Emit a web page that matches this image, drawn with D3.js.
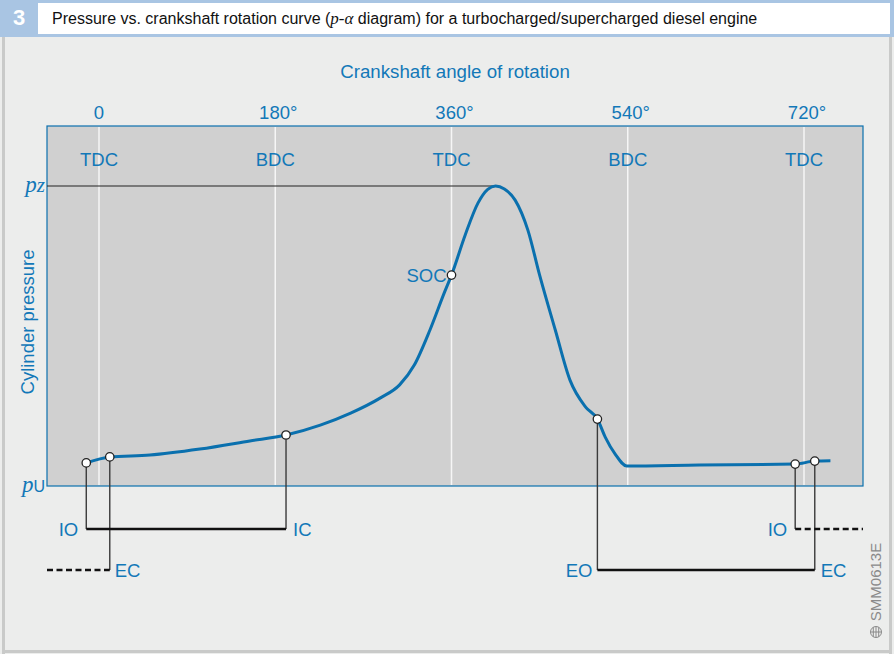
<!DOCTYPE html>
<html><head><meta charset="utf-8">
<script src="https://cdn.jsdelivr.net/npm/d3@7"></script>
<style>body{margin:0;background:#fff}svg{display:block}text{font-family:"Liberation Sans",Arial,sans-serif}</style>
</head><body><svg id="c" width="894" height="654"></svg>
<script>
// Data
const tickAngles = [0, 180, 360, 540, 720];
const tickLabels = ["0", "180°", "360°", "540°", "720°"];
const deadCenters = ["TDC", "BDC", "TDC", "BDC", "TDC"];
const curveAngles = [-13, 11, 52, 103, 154, 191, 226, 257, 287, 307, 322, 338, 353, 360, 374, 387, 397, 405, 414, 425, 438, 450, 466, 481, 497, 509, 517, 527, 539, 613, 711, 731, 747];
const curvePressure = [7.7, 9.7, 10.3, 12.3, 15.0, 17.0, 20.3, 24.3, 29.3, 33.7, 40.3, 52, 64.7, 70.3, 83.7, 94.3, 98.9, 100, 99, 95.3, 85.3, 70.3, 52, 35.3, 26.3, 22.3, 16.3, 10.7, 6.7, 7.0, 7.3, 8.3, 8.4];
const eventNames = ["IO", "EC", "IC", "SOC", "EO", "IO", "EC"];
const eventAngles = [-13, 11, 191, 360, 509, 711, 731];
const eventPressure = [7.7, 9.7, 17.0, 70.3, 22.3, 7.3, 8.3];
const peakAngle = 405, peakPressure = 100;

const svg = d3.select("#c");
const blue = "#1278b8", curveBlue = "#0a70ae";

// frame
svg.append("rect").attr("width",894).attr("height",654).attr("fill","#ecedec");
svg.append("rect").attr("x",2).attr("y",36).attr("width",3).attr("height",618).attr("fill","#c9cac9");
svg.append("rect").attr("x",889).attr("y",36).attr("width",3).attr("height",618).attr("fill","#c9cac9");
svg.append("rect").attr("x",2).attr("y",650).attr("width",890).attr("height",3).attr("fill","#c9cac9");
svg.append("rect").attr("x",0).attr("y",0).attr("width",894).attr("height",37).attr("fill","#a9c5e3");
svg.append("rect").attr("x",38).attr("y",3).attr("width",852).attr("height",31).attr("fill","#fff");
svg.append("text").attr("x",19).attr("y",25).attr("text-anchor","middle").attr("fill","#fff")
  .attr("font-size",22).attr("font-weight","bold").text("3");
const tt = svg.append("text").attr("x",52).attr("y",24).attr("font-size",16).attr("fill","#111");
tt.append("tspan").text("Pressure vs. crankshaft rotation curve (");
tt.append("tspan").attr("font-family","Liberation Serif").attr("font-style","italic").attr("font-size",17).text("p-α");
tt.append("tspan").text(" diagram) for a turbocharged/supercharged diesel engine");

// scales
const x = d3.scaleLinear().domain([0,720]).range([99,804]);
const y = d3.scaleLinear().domain([0,100]).range([486,186]);
const L = 47, R = 863, T = 126, B = 486;

svg.append("rect").attr("x",L).attr("y",T).attr("width",R-L).attr("height",B-T)
  .attr("fill","#d0d0d0").attr("stroke",curveBlue).attr("stroke-width",1.2);
svg.selectAll(".vl").data(tickAngles).join("line")
  .attr("x1",d=>x(d)).attr("x2",d=>x(d)).attr("y1",T+1).attr("y2",B-1)
  .attr("stroke","#f6f6f6").attr("stroke-width",1.5);

// axis labels
const fs = 18.5;
svg.append("text").attr("x",455).attr("y",78).attr("text-anchor","middle").attr("font-size",18.7).attr("fill",blue).text("Crankshaft angle of rotation");
svg.selectAll(".tl").data(tickAngles).join("text")
  .attr("x",(d,i)=>x(d)+(i===0?0:3)).attr("y",119).attr("text-anchor","middle").attr("font-size",fs).attr("fill",blue)
  .text((d,i)=>tickLabels[i]);
svg.selectAll(".dc").data(tickAngles).join("text")
  .attr("x",d=>x(d)).attr("y",166).attr("text-anchor","middle").attr("font-size",fs).attr("fill",blue)
  .text((d,i)=>deadCenters[i]);
svg.append("text").attr("transform","translate(34,322) rotate(-90)").attr("text-anchor","middle")
  .attr("font-size",fs).attr("fill",blue).text("Cylinder pressure");

// pz / pU
const pz = svg.append("text").attr("x",45).attr("y",y(100)+6).attr("text-anchor","end").attr("fill",blue);
pz.append("tspan").attr("font-family","Liberation Serif").attr("font-style","italic").attr("font-size",23).text("p");
pz.append("tspan").attr("font-family","Liberation Serif").attr("font-style","italic").attr("font-size",21).text("z");
const pu = svg.append("text").attr("x",45).attr("y",y(0)+6).attr("text-anchor","end").attr("fill",blue);
pu.append("tspan").attr("font-family","Liberation Serif").attr("font-style","italic").attr("font-size",23).text("p");
pu.append("tspan").attr("font-size",16).text("U");

// pz line
svg.append("line").attr("x1",L).attr("x2",x(peakAngle)).attr("y1",y(peakPressure)).attr("y2",y(peakPressure))
  .attr("stroke","#222").attr("stroke-width",1);

// curve
const pts = curveAngles.map((a,i)=>[a,curvePressure[i]]);
svg.append("path").attr("d",d3.line().x(d=>x(d[0])).y(d=>y(d[1])).curve(d3.curveMonotoneX)(pts))
  .attr("fill","none").attr("stroke",curveBlue).attr("stroke-width",3);

// connectors
const ev = eventNames.map((n,i)=>({n, a:eventAngles[i], p:eventPressure[i]}));
const yA = 529, yB = 570;
const conn = svg.append("g");
function vline(e, yy){conn.append("line").attr("x1",x(e.a)).attr("x2",x(e.a)).attr("y1",y(e.p)).attr("y2",yy).attr("stroke","#3a3a3a").attr("stroke-width",1.4);}
vline(ev[0], yA); vline(ev[1], yB); vline(ev[2], yA); vline(ev[4], yB); vline(ev[5], yA); vline(ev[6], yB);
function hline(x1,x2,yy,dash){conn.append("line").attr("x1",x1).attr("x2",x2).attr("y1",yy).attr("y2",yy)
  .attr("stroke","#111").attr("stroke-width",2.6).attr("stroke-dasharray",dash||null);}
hline(x(ev[0].a), x(ev[2].a), yA);
hline(L, x(ev[1].a), yB, "6,3.5");
hline(x(ev[4].a), x(ev[6].a), yB);
hline(x(ev[5].a), R, yA, "6,3.5");

function lab(t, xx, yy, anchor){svg.append("text").attr("x",xx).attr("y",yy+7).attr("text-anchor",anchor).attr("font-size",fs).attr("fill",blue).text(t);}
lab(ev[0].n, x(ev[0].a)-8, yA, "end");
lab(ev[2].n, x(ev[2].a)+7, yA, "start");
lab(ev[1].n, x(ev[1].a)+5, yB, "start");
lab(ev[4].n, x(ev[4].a)-5, yB, "end");
lab(ev[6].n, x(ev[6].a)+6, yB, "start");
lab(ev[5].n, x(ev[5].a)-8, yA, "end");
lab(ev[3].n, x(ev[3].a)-5, y(ev[3].p), "end");

// markers
svg.selectAll(".mk").data(ev).join("circle")
  .attr("cx",d=>x(d.a)).attr("cy",d=>y(d.p)).attr("r",4.2)
  .attr("fill","#fff").attr("stroke","#222").attr("stroke-width",1.3);

// code label
svg.append("text").attr("transform","translate(881,582) rotate(-90)").attr("text-anchor","middle")
  .attr("font-size",15).attr("fill","#8a8a8a").text("SMM0613E");
const ic = svg.append("g").attr("transform","translate(876,632)").attr("stroke","#8a8a8a").attr("fill","none").attr("stroke-width",1);
ic.append("circle").attr("r",5.5);
ic.append("line").attr("x1",-5.5).attr("x2",5.5);
ic.append("line").attr("y1",-5.5).attr("y2",5.5);
ic.append("line").attr("x1",-2.7).attr("x2",-2.7).attr("y1",-4.8).attr("y2",4.8);
ic.append("line").attr("x1",2.7).attr("x2",2.7).attr("y1",-4.8).attr("y2",4.8);
</script></body></html>
